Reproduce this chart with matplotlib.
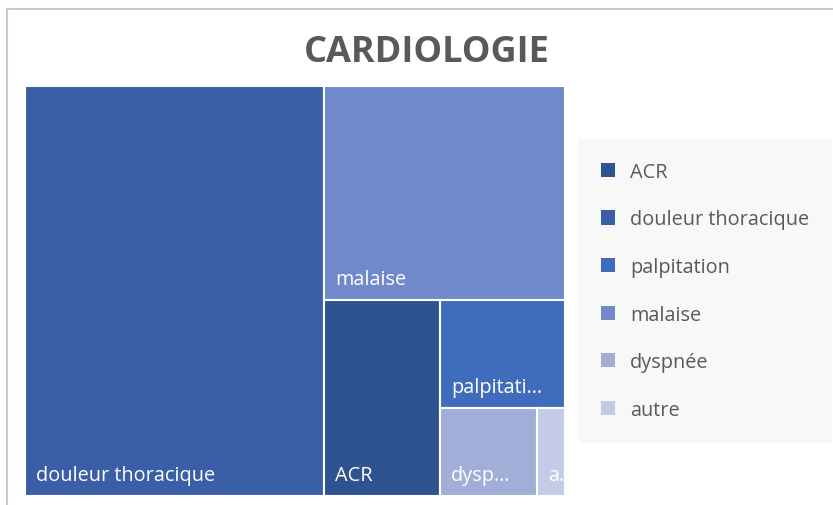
import matplotlib
matplotlib.use("Agg")
import matplotlib.pyplot as plt
from matplotlib.patches import Rectangle, Patch
from matplotlib.lines import Line2D

categories = ["ACR", "douleur thoracique", "palpitation", "malaise", "dyspnée", "autre"]
values = [18.5, 100, 11, 42, 7, 2]
colors = ["#2F5290", "#3A5FA6", "#3F6DBB", "#6F89CA", "#A0AED8", "#C3CBE6"]
title = "CARDIOLOGIE"

FONT = ["Open Sans", "DejaVu Sans"]
FS = 14.3
W, H = 833, 506
fig = plt.figure(figsize=(W / 100, H / 100), dpi=100)
fig.patch.set_facecolor("white")

# chart frame (top and left visible)
fig.add_artist(Line2D([7 / W, 7 / W], [0, 1 - 10 / H], color="#C8C8C8", lw=1.5))
fig.add_artist(Line2D([7 / W, 1], [1 - 10 / H, 1 - 10 / H], color="#C8C8C8", lw=1.5))

fig.text(427 / W, 1 - 53 / H, title, ha="center", va="center", fontsize=26,
         fontweight="bold", color="#595959", family=FONT)

# treemap area
x0, y0, x1, y1 = 25, 87, 565, 497
ax = fig.add_axes([x0 / W, 1 - y1 / H, (x1 - x0) / W, (y1 - y0) / H])
aw, ah = x1 - x0, y1 - y0
ax.set_xlim(0, aw)
ax.set_ylim(ah, 0)
ax.axis("off")

order = sorted(range(len(values)), key=lambda i: -values[i])
rx, ry, rw, rh = 0.0, 0.0, float(aw), float(ah)
remaining = float(sum(values))
rects = []
for k, i in enumerate(order):
    frac = values[i] / remaining
    if k == len(order) - 1:
        r = (rx, ry, rw, rh)
    elif rw >= rh:
        w = rw * frac
        r = (rx, ry, w, rh)
        rx += w
        rw -= w
    else:
        h = rh * frac
        r = (rx, ry, rw, h)
        ry += h
        rh -= h
    remaining -= values[i]
    rects.append((i, r))

fig.canvas.draw()
renderer = fig.canvas.get_renderer()

def fit_label(text, maxw):
    t = ax.text(0, 0, text, fontsize=FS, family=FONT)
    def width(s):
        t.set_text(s)
        return t.get_window_extent(renderer).width
    if width(text) <= maxw:
        t.remove()
        return text
    for n in range(len(text) - 1, 0, -1):
        s = text[:n] + "…"
        if width(s) <= maxw:
            t.remove()
            return s
    t.remove()
    return text[:1] + "…"

for i, (x, y, w, h) in rects:
    ax.add_patch(Rectangle((x, y), w, h, facecolor=colors[i], edgecolor="white", lw=1.5))
    lab = fit_label(categories[i], w - 26)
    ax.text(x + 11, y + h - 16, lab, fontsize=FS, color="white", family=FONT,
            ha="left", va="baseline", clip_on=False)

# legend
handles = [Patch(facecolor=c, edgecolor="none") for c in colors]
leg = fig.legend(handles, categories, loc="upper left",
                 bbox_to_anchor=(578 / W, 1 - 140 / H), frameon=True,
                 prop={"family": FONT, "size": FS}, labelcolor="#595959",
                 handlelength=0.72, handleheight=0.72, handletextpad=0.75,
                 labelspacing=1.39, borderpad=1.15, borderaxespad=0)
leg.get_frame().set_facecolor("#F7F7F7")
leg.get_frame().set_edgecolor("none")
leg.get_frame().set_boxstyle("square", pad=0)

fig.savefig("out.png", dpi=100, facecolor="white")
